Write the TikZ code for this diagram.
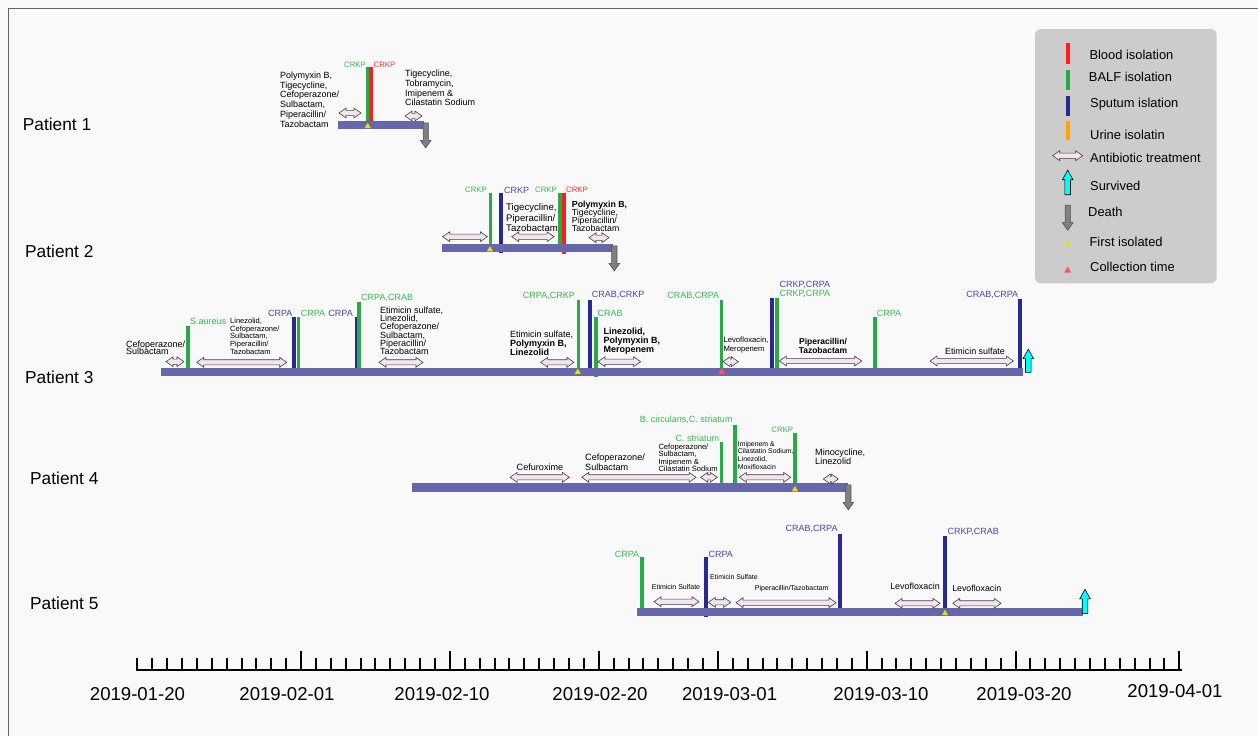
\documentclass[tikz,border=0pt]{standalone}
\usepackage{fontspec}
\setmainfont{Liberation Sans}
\usetikzlibrary{shapes.arrows,shapes.geometric}

\definecolor{bloodred}{RGB}{255,30,30}
\definecolor{balfgreen}{RGB}{40,170,70}
\definecolor{sputumblue}{RGB}{40,40,150}
\definecolor{urineorange}{RGB}{255,165,0}
\definecolor{labgreen}{RGB}{60,185,80}
\definecolor{labblue}{RGB}{70,70,190}
\definecolor{labred}{RGB}{255,50,50}
\definecolor{timeblue}{RGB}{102,102,170}
\definecolor{treatpink}{RGB}{245,228,240}
\definecolor{legendgray}{RGB}{204,204,204}
\definecolor{pagebg}{RGB}{249,249,249}
\definecolor{survcyan}{RGB}{0,255,255}
\definecolor{deathgray}{RGB}{128,128,128}
\definecolor{firstyellow}{RGB}{235,225,0}
\definecolor{collectred}{RGB}{255,85,85}

\begin{document}
\setlength{\lineskiplimit}{-20pt}
\begin{tikzpicture}[x=1pt, y=-1pt,
  bar_blood/.style={draw=bloodred, line width=4pt},
  bar_balf/.style={draw=balfgreen, line width=3.6pt},
  bar_sputum/.style={draw=sputumblue, line width=3.8pt},
  bar_urine/.style={draw=urineorange, line width=4pt},
  timeline/.style={fill=timeblue},
  treat/.style={double arrow, draw=black!75, fill=treatpink, line width=0.6pt,
    inner xsep=0pt, inner ysep=2.3pt, double arrow head extend=2.3pt, double arrow tip angle=70},
  survived/.style={single arrow, rotate=90, draw=black, fill=survcyan, line width=0.6pt,
    inner xsep=0pt, inner ysep=2.5pt, minimum height=24pt, single arrow head extend=2.5pt, single arrow tip angle=58},
  death/.style={single arrow, rotate=-90, draw=black!70, fill=deathgray, line width=0.6pt,
    inner xsep=0pt, inner ysep=2.35pt, minimum height=25pt, single arrow head extend=2.6pt, single arrow tip angle=70},
  first_iso/.style={regular polygon, regular polygon sides=3, fill=firstyellow, minimum size=7pt, inner sep=0pt},
  collect_time/.style={regular polygon, regular polygon sides=3, fill=collectred, minimum size=8pt, inner sep=0pt},
  lab_green/.style={text=labgreen, inner sep=0pt, font=\fontsize{9}{9}\selectfont},
  lab_blue/.style={text=labblue, inner sep=0pt, font=\fontsize{9}{9}\selectfont},
  lab_small/.style={inner sep=0pt, font=\fontsize{7.8}{8}\selectfont},
  drug/.style 2 args={align=left, inner sep=0pt, font=\fontsize{#1}{#2}\selectfont},
  patient/.style={anchor=west, inner sep=0pt, font=\fontsize{17.3}{18}\selectfont},
  date_lab/.style={inner sep=0pt, font=\fontsize{18.6}{19}\selectfont},
  legend_txt/.style={anchor=west, inner sep=0pt, font=\fontsize{12.9}{13}\selectfont}]

\useasboundingbox (0,0) rectangle (1258,736);
\fill[pagebg] (0,0) rectangle (1258,736);
\draw[black!60, line width=1pt] (8,736) -- (8,8) -- (1258,8);

% patients
\node[patient] (pt1) at (22.7,124) {Patient 1};
\node[patient] (pt2) at (25,251) {Patient 2};
\node[patient] (pt3) at (25,377) {Patient 3};
\node[patient] (pt4) at (30,478) {Patient 4};
\node[patient] (pt5) at (30,603) {Patient 5};

% patient 1
\draw[bar_balf] (367.5,121) -- (367.5,67);
\draw[bar_blood] (371.3,123) -- (371.3,67);
\fill[timeline] (338,121) rectangle (424,129);
\node[lab_small, text=labgreen, anchor=east] (p1l1) at (366,65) {CRKP};
\node[lab_small, text=labred, anchor=west] (p1l2) at (373.5,65) {CRKP};
\node[drug={9}{9.8}, anchor=west] (p1t1) at (280,99.5) {Polymyxin B,\\Tigecycline,\\Cefoperazone/\\Sulbactam,\\Piperacillin/\\Tazobactam};
\node[drug={9}{9.8}, anchor=west] (p1t2) at (405,88) {Tigecycline,\\Tobramycin,\\Imipenem \&\\Cilastatin Sodium};
\node[treat, minimum height=22pt] (p1a1) at (350,113) {};
\node[treat, minimum height=17pt] (p1a2) at (413.5,116) {};
\node[first_iso] (p1f) at (367.7,126.3) {};
\node[death] (p1d) at (425.7,133.5) {};

% patient 2
\draw[bar_balf] (490.3,244) -- (490.3,193);
\draw[bar_sputum] (501.3,252.7) -- (501.3,193);
\draw[bar_balf] (560,244) -- (560,193);
\draw[bar_blood] (564,254) -- (564,193);
\fill[timeline] (441.7,244) rectangle (613,251.5);
\node[lab_small, text=labgreen, anchor=east] (p2l1) at (487,190) {CRKP};
\node[lab_blue, anchor=west] (p2l2) at (504,190) {CRKP};
\node[lab_small, text=labgreen, anchor=east] (p2l3) at (557,190) {CRKP};
\node[lab_small, text=labred, anchor=west] (p2l4) at (566,190) {CRKP};
\node[drug={9.6}{10.8}, anchor=west] (p2t1) at (506,217.7) {Tigecycline,\\Piperacillin/\\Tazobactam};
\node[drug={8.8}{8.2}, anchor=west] (p2t2) at (571.7,216.2) {\textbf{Polymyxin B,}\\Tigecycline,\\Piperacillin/\\Tazobactam};
\node[treat, minimum height=44.6pt] (p2a1) at (465,236.7) {};
\node[treat, minimum height=42.3pt] (p2a2) at (532.9,236.7) {};
\node[treat, minimum height=20pt] (p2a3) at (599,237.7) {};
\node[first_iso] (p2f) at (490,249.5) {};
\node[death] (p2d) at (614.3,256.5) {};

% patient 3
\draw[bar_balf] (188,375.7) -- (188,325.7);
\draw[bar_sputum] (294.3,375.7) -- (294.3,316.7);
\draw[bar_balf] (298.3,375.7) -- (298.3,316.7);
\draw[bar_sputum] (356.7,375.7) -- (356.7,316.7);
\draw[bar_balf] (359,368) -- (359,302.3);
\draw[bar_balf] (578.3,368) -- (578.3,300);
\draw[bar_sputum] (590.3,368) -- (590.3,300);
\draw[bar_balf] (595.7,377) -- (595.7,317.3);
\draw[bar_balf] (721.3,368) -- (721.3,300);
\draw[bar_sputum] (771.7,368) -- (771.7,298.3);
\draw[bar_balf] (777.2,368) -- (777.2,298.3);
\draw[bar_balf] (874.7,375.7) -- (874.7,316.7);
\draw[bar_sputum] (1020.3,368) -- (1020.3,299);
\fill[timeline] (160.7,367.7) rectangle (1023,375.7);
\node[lab_green, anchor=west] (p3l1) at (190,321.7) {S.aureus};
\node[lab_blue, anchor=east] (p3l2) at (292.7,313.3) {CRPA};
\node[lab_green, anchor=west] (p3l3) at (300.7,313.3) {CRPA};
\node[lab_blue, anchor=east] (p3l4) at (353,313.3) {CRPA};
\node[lab_green, anchor=west] (p3l5) at (361,298.3) {CRPA,CRAB};
\node[lab_green, anchor=east] (p3l6) at (575,296) {CRPA,CRKP};
\node[lab_blue, anchor=west] (p3l7) at (591.7,294.7) {CRAB,CRKP};
\node[lab_green, anchor=west] (p3l8) at (597.5,313.3) {CRAB};
\node[lab_green, anchor=east] (p3l9) at (719.3,296) {CRAB,CRPA};
\node[lab_blue, anchor=west] (p3l10) at (779.3,285) {CRKP,CRPA};
\node[lab_green, anchor=west] (p3l11) at (779.3,294.3) {CRKP,CRPA};
\node[lab_green, anchor=west] (p3l12) at (876.7,313.3) {CRPA};
\node[lab_blue, anchor=east] (p3l13) at (1018.3,295) {CRAB,CRPA};
\node[drug={9}{7.5}, anchor=west] (p3t1) at (126,347.7) {Cefoperazone/\\Sulbactam};
\node[drug={7.5}{7.75}, anchor=west] (p3t2) at (230,336.2) {Linezolid,\\Cefoperazone/\\Sulbactam,\\Piperacillin/\\Tazobactam};
\node[drug={9}{8.33}, anchor=west] (p3t3) at (380,330.8) {Etimicin sulfate,\\Linezolid,\\Cefoperazone/\\Sulbactam,\\Piperacillin/\\Tazobactam};
\node[drug={9}{8.8}, anchor=west] (p3t4) at (510,343) {Etimicin sulfate,\\\textbf{Polymyxin B,}\\\textbf{Linezolid}};
\node[drug={9}{9.2}, anchor=west] (p3t5) at (603.3,341) {\textbf{Linezolid,}\\\textbf{Polymyxin B,}\\\textbf{Meropenem}};
\node[drug={7.7}{8.6}, anchor=west] (p3t6) at (723.3,345) {Levofloxacin,\\Meropenem};
\node[drug={8.5}{9.3}, align=center] (p3t7) at (823,346.3) {\textbf{Piperacillin/}\\\textbf{Tazobactam}};
\node[drug={8.9}{10}] (p3t8) at (975,351.7) {Etimicin sulfate};
\node[treat, minimum height=18pt] (p3a1) at (175,361.7) {};
\node[treat, minimum height=90pt] (p3a2) at (241.7,362.3) {};
\node[treat, minimum height=44pt] (p3a3) at (401,362.3) {};
\node[treat, minimum height=33.3pt] (p3a4) at (557.3,362.3) {};
\node[treat, minimum height=42.7pt] (p3a5) at (619.3,361.7) {};
\node[treat, minimum height=15.3pt] (p3a6) at (730.7,361.7) {};
\node[treat, minimum height=82.4pt] (p3a7) at (820.5,361) {};
\node[treat, minimum height=83.3pt] (p3a8) at (971.7,361) {};
\node[first_iso] (p3f) at (577.7,372) {};
\node[collect_time] (p3c) at (721.7,372) {};
\node[survived, minimum height=23.3pt] (p3s) at (1028.3,363.3) {};

% patient 4
\draw[bar_balf] (721.3,483.3) -- (721.3,441.7);
\draw[bar_balf] (735,485) -- (735,425);
\draw[bar_balf] (795,483.3) -- (795,433.3);
\fill[timeline] (412,483.3) rectangle (848.3,491.7);
\node[lab_green, anchor=east] (p4l1) at (719.3,438.3) {C. striatum};
\node[lab_green, anchor=east] (p4l2) at (732.7,420) {B. circulans,C. striatum};
\node[lab_small, text=labgreen, anchor=east] (p4l3) at (793.3,430) {CRKP};
\node[drug={9.1}{10}] (p4t1) at (540,467.3) {Cefuroxime};
\node[drug={9.1}{10}, anchor=west] (p4t2) at (585,462.3) {Cefoperazone/\\Sulbactam};
\node[drug={7.6}{7.4}, anchor=west] (p4t3) at (658.3,457.9) {Cefoperazone/\\Sulbactam,\\Imipenem \&\\Cilastatin Sodium};
\node[drug={6.9}{7.6}, anchor=west] (p4t4) at (737.7,455.3) {Imipenem \&\\Cilastatin Sodium,\\Linezolid,\\Moxifloxacin};
\node[drug={9.1}{9.4}, anchor=west] (p4t5) at (815,457) {Minocycline,\\Linezolid};
\node[treat, minimum height=59.3pt] (p4a1) at (539.7,477.3) {};
\node[treat, minimum height=114.3pt] (p4a2) at (638.9,477.3) {};
\node[treat, minimum height=16.6pt] (p4a3) at (709,477.3) {};
\node[treat, minimum height=51.4pt] (p4a4) at (765,477.3) {};
\node[treat, minimum height=15pt] (p4a5) at (830.8,479) {};
\node[first_iso] (p4f) at (795,489.5) {};
\node[death] (p4d) at (848.3,495.5) {};

% patient 5
\draw[bar_balf] (641.7,608.3) -- (641.7,557.3);
\draw[bar_sputum] (706.3,616.7) -- (706.3,557.3);
\draw[bar_sputum] (839.7,608.3) -- (839.7,534.3);
\draw[bar_sputum] (945.3,608.3) -- (945.3,536);
\fill[timeline] (637.3,608.3) rectangle (1083.3,615.7);
\node[lab_green, anchor=east] (p5l1) at (639.3,554) {CRPA};
\node[lab_blue, anchor=west] (p5l2) at (708.3,554) {CRPA};
\node[lab_blue, anchor=east] (p5l3) at (837.7,529) {CRAB,CRPA};
\node[lab_blue, anchor=west] (p5l4) at (947.3,532.3) {CRKP,CRAB};
\node[drug={7}{8}] (p5t1) at (676,586.7) {Etimicin Sulfate};
\node[drug={6.9}{8}, anchor=west] (p5t2) at (710,576.7) {Etimicin Sulfate};
\node[drug={7}{8}] (p5t3) at (791.7,588.3) {Piperacillin/Tazobactam};
\node[drug={8.9}{10}] (p5t4) at (915,586.7) {Levofloxacin};
\node[drug={8.8}{10}] (p5t5) at (976.7,588.3) {Levofloxacin};
\node[treat, minimum height=45pt] (p5a1) at (676.5,601.7) {};
\node[treat, minimum height=22.4pt] (p5a2) at (719.5,602.3) {};
\node[treat, minimum height=100pt] (p5a3) at (786,602.7) {};
\node[treat, minimum height=45pt] (p5a4) at (917.5,603.3) {};
\node[treat, minimum height=48.3pt] (p5a5) at (976.9,603.3) {};
\node[first_iso] (p5f) at (945,613.3) {};
\node[survived, minimum height=24.3pt] (p5s) at (1085,604) {};

% time axis
\draw[line width=2.7pt] (136,670) -- (1182,670);
\foreach \k in {0,...,70}
  \draw[line width=2pt] ({137.3+\k*14.886},670) -- ++(0,-12.3);
\foreach \k in {11,21,31,39,49,59,70}
  \draw[line width=2pt] ({137.3+\k*14.886},670) -- ++(0,-19);
\node[date_lab] (d1) at (137.5,694) {2019-01-20};
\node[date_lab] (d2) at (287,694) {2019-02-01};
\node[date_lab] (d3) at (442,694) {2019-02-10};
\node[date_lab] (d4) at (600,694) {2019-02-20};
\node[date_lab] (d5) at (729.6,694) {2019-03-01};
\node[date_lab] (d6) at (881,694) {2019-03-10};
\node[date_lab] (d7) at (1024,694) {2019-03-20};
\node[date_lab] (d8) at (1175,691) {2019-04-01};

% legend
\fill[legendgray, rounded corners=6pt] (1035,29) rectangle (1216.7,283.3);
\draw[bar_blood] (1067.8,43.3) -- (1067.8,64.3);
\draw[bar_balf] (1067.8,70) -- (1067.8,90);
\draw[bar_sputum] (1067.8,95.7) -- (1067.8,115.7);
\draw[bar_urine] (1067.8,120.7) -- (1067.8,140);
\node[treat, minimum height=30pt] (lg_treat) at (1067.7,155.7) {};
\node[survived, minimum height=24.6pt] (lg_surv) at (1067.7,185) {};
\node[death, minimum height=25pt] (lg_death) at (1067.7,215.8) {};
\node[first_iso, minimum size=6.5pt] (lg_first) at (1067.7,244) {};
\node[collect_time] (lg_coll) at (1067.7,270.5) {};
\node[legend_txt] (lt1) at (1089.3,55) {Blood isolation};
\node[legend_txt] (lt2) at (1088.7,77.3) {BALF isolation};
\node[legend_txt] (lt3) at (1090,104) {Sputum islation};
\node[legend_txt] (lt4) at (1090,135) {Urine isolatin};
\node[legend_txt] (lt5) at (1090,158.3) {Antibiotic treatment};
\node[legend_txt] (lt6) at (1090,185.7) {Survived};
\node[legend_txt] (lt7) at (1088,211.7) {Death};
\node[legend_txt] (lt8) at (1089.3,242.3) {First isolated};
\node[legend_txt] (lt9) at (1090,267.3) {Collection time};

\end{tikzpicture}
\end{document}
